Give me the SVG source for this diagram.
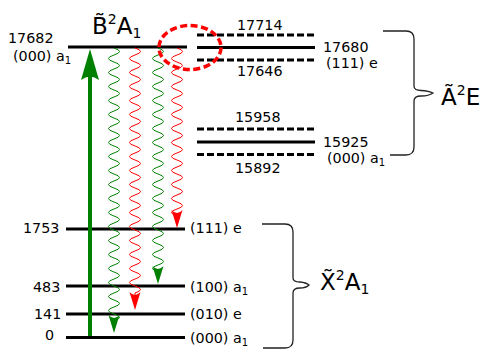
<svg xmlns="http://www.w3.org/2000/svg" width="490" height="358" viewBox="0 0 490 358">
<defs>
<style>
text{font-family:"DejaVu Sans","Liberation Sans",sans-serif;fill:#000}
.num{font-size:14.3px}
.lab{font-size:23px}
.lvl{stroke:#000;stroke-width:3;fill:none}
.dash{stroke:#000;stroke-width:3;fill:none;stroke-dasharray:7,3}
.brace{stroke:#222;stroke-width:1.3;fill:none}
.wg{stroke:#008000;stroke-width:1;fill:none}
.wr{stroke:#ff0000;stroke-width:1;fill:none}
</style>
<path id="head" d="M0,0 L-5.5,-18 Q0,-12 5.5,-18 Z"/>
</defs>
<g id="levels">
<g id="B000"><line class="lvl" x1="68" y1="47" x2="187" y2="47"/></g>
<g id="A17714"><line class="dash" x1="197" y1="35" x2="315" y2="35"/></g>
<g id="A17680"><line class="lvl" x1="197" y1="47.5" x2="315" y2="47.5"/></g>
<g id="A17646"><line class="dash" x1="197" y1="60" x2="315" y2="60"/></g>
<g id="A15958"><line class="dash" x1="197" y1="129" x2="315" y2="129"/></g>
<g id="A15925"><line class="lvl" x1="197" y1="142" x2="315" y2="142"/></g>
<g id="A15892"><line class="dash" x1="197" y1="154.5" x2="315" y2="154.5"/></g>
<g id="X111"><line class="lvl" x1="66" y1="229" x2="185" y2="229"/></g>
<g id="X100"><line class="lvl" x1="66" y1="286" x2="185" y2="286"/></g>
<g id="X010"><line class="lvl" x1="66" y1="314" x2="185" y2="314"/></g>
<g id="X000"><line class="lvl" x1="66" y1="337.5" x2="185" y2="337.5"/></g>
</g>
<g id="connectors">
<line x1="90" y1="336" x2="90" y2="70" stroke="#008000" stroke-width="4"/>
<path d="M90,49 L81,80 Q90,73 99,80 Z" fill="#008000"/>
<path class="wg" d="M114,48 q11,3.5 0,7 t0,7 t0,7 t0,7 t0,7 t0,7 t0,7 t0,7 t0,7 t0,7 t0,7 t0,7 t0,7 t0,7 t0,7 t0,7 t0,7 t0,7 t0,7 t0,7 t0,7 t0,7 t0,7 t0,7 t0,7 t0,7 t0,7 t0,7 t0,7 t0,7 t0,7 t0,7 t0,7 t0,7 t0,7 t0,7 t0,7 t0,7 t0,7"/>
<use href="#head" x="114" y="333" fill="#008000"/>
<path class="wr" d="M135,48 q11,3.5 0,7 t0,7 t0,7 t0,7 t0,7 t0,7 t0,7 t0,7 t0,7 t0,7 t0,7 t0,7 t0,7 t0,7 t0,7 t0,7 t0,7 t0,7 t0,7 t0,7 t0,7 t0,7 t0,7 t0,7 t0,7 t0,7 t0,7 t0,7 t0,7 t0,7 t0,7 t0,7 t0,7 t0,7 t0,7 v5"/>
<use href="#head" x="135" y="310" fill="#ff0000"/>
<path class="wg" d="M158,48 q11,3.5 0,7 t0,7 t0,7 t0,7 t0,7 t0,7 t0,7 t0,7 t0,7 t0,7 t0,7 t0,7 t0,7 t0,7 t0,7 t0,7 t0,7 t0,7 t0,7 t0,7 t0,7 t0,7 t0,7 t0,7 t0,7 t0,7 t0,7 t0,7 t0,7 t0,7 t0,7 t0,7"/>
<use href="#head" x="158" y="284" fill="#008000"/>
<path class="wr" d="M177,48 q11,3.5 0,7 t0,7 t0,7 t0,7 t0,7 t0,7 t0,7 t0,7 t0,7 t0,7 t0,7 t0,7 t0,7 t0,7 t0,7 t0,7 t0,7 t0,7 t0,7 t0,7 t0,7 t0,7 t0,7 t0,7"/>
<use href="#head" x="177" y="228" fill="#ff0000"/>
<ellipse cx="190" cy="47.5" rx="31" ry="22" fill="none" stroke="#ff0000" stroke-width="3.5" stroke-dasharray="7,3.5"/>
<path class="brace" d="M383,31 H406 Q414,31 414,39 V86 Q414,90.5 421,90.5 Q429,91 433,93 Q429,96 421,96 Q414,96 414,101 V147 Q414,155 406,155 H390"/>
<path class="brace" d="M262,224 H285 Q293,224 293,232 V278 Q293,282 300,282 Q306,282.5 309,285 Q306,288 300,288 Q293,288 293,293 V340 Q293,348 285,348 H263"/>
</g>
<g id="labels">
<text class="lab" x="92" y="34">B&#x303;<tspan font-size="14" dy="-10">2</tspan><tspan dy="10">A</tspan><tspan font-size="14" dy="4">1</tspan></text>
<text class="lab" x="441" y="105">A&#x303;<tspan font-size="14" dy="-10">2</tspan><tspan dy="10">E</tspan></text>
<text class="lab" x="320" y="290">X&#x303;<tspan font-size="14" dy="-10">2</tspan><tspan dy="10">A</tspan><tspan font-size="14" dy="4">1</tspan></text>
<text class="num" x="8" y="43">17682</text>
<text class="num" x="13" y="61">(000) a<tspan font-size="10" dy="3">1</tspan></text>
<text class="num" x="237" y="30">17714</text>
<text class="num" x="323" y="52">17680</text>
<text class="num" x="326" y="68">(111) e</text>
<text class="num" x="237" y="76">17646</text>
<text class="num" x="235" y="122">15958</text>
<text class="num" x="323" y="147">15925</text>
<text class="num" x="327" y="163">(000) a<tspan font-size="10" dy="3">1</tspan></text>
<text class="num" x="235" y="173">15892</text>
<text class="num" x="23" y="233">1753</text>
<text class="num" x="33" y="292">483</text>
<text class="num" x="34" y="319">141</text>
<text class="num" x="45" y="340">0</text>
<text class="num" x="190" y="233">(111) e</text>
<text class="num" x="190" y="292">(100) a<tspan font-size="10" dy="3">1</tspan></text>
<text class="num" x="190" y="319">(010) e</text>
<text class="num" x="190" y="343">(000) a<tspan font-size="10" dy="3">1</tspan></text>
</g>
</svg>
